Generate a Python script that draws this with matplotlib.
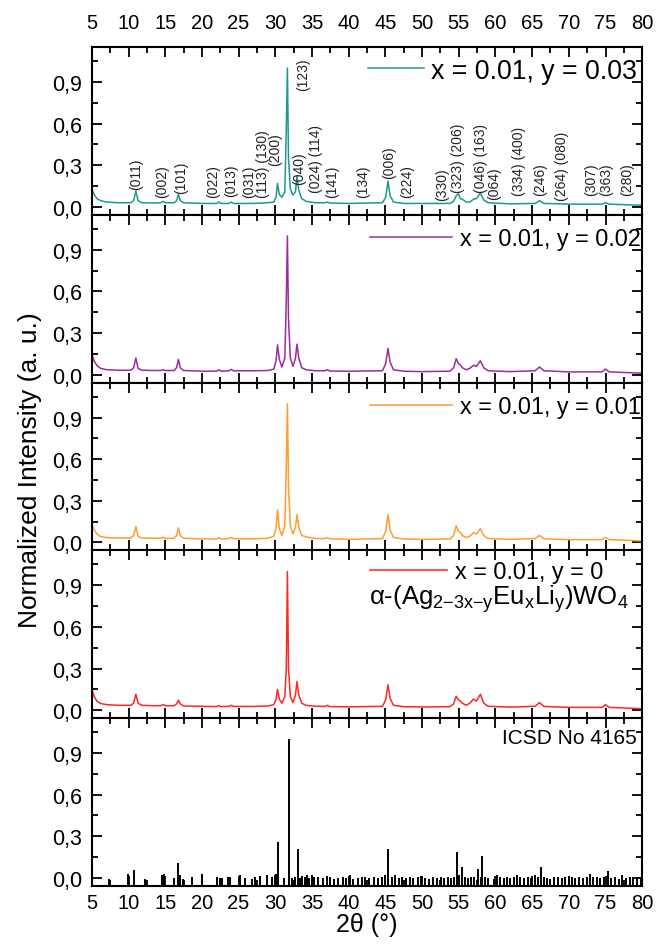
import matplotlib
matplotlib.use('Agg')
import matplotlib.pyplot as plt
from matplotlib.ticker import MultipleLocator, FuncFormatter

plt.rcParams['font.family'] = ['Liberation Sans', 'DejaVu Sans']
plt.rcParams['mathtext.fontset'] = 'custom'
plt.rcParams['mathtext.rm'] = 'Liberation Sans'
plt.rcParams['mathtext.it'] = 'Liberation Sans'

# 2theta grid shared by the four measured patterns
two_theta = [5.0, 5.3, 5.7, 6.2, 7.0, 8.5, 10.3, 10.7, 11.0, 11.3,
             11.8, 13.5, 14.4, 14.7, 15.0, 16.2, 16.55, 16.8, 17.05, 17.5,
             20.0, 22.0, 22.3, 22.6, 23.7, 24.0, 24.3, 27.0, 29.0, 29.8,
             30.1, 30.3, 30.55, 30.9, 31.3, 31.5, 31.65, 31.8, 32.05, 32.4,
             32.75, 32.95, 33.2, 33.6, 34.2, 35.5, 36.8, 37.1, 37.4, 40.0,
             44.6, 45.05, 45.35, 45.65, 46.1, 47.5, 50.0, 53.8, 54.3, 54.65,
             54.95, 55.2, 55.5, 56.0, 56.5, 57.0, 57.4, 57.95, 58.4, 59.0,
             62.0, 65.4, 66.0, 66.6, 70.0, 74.5, 75.0, 75.5, 78.0, 80.0]

# x = 0.01, y = 0.03
int_y003 = [0.13, 0.09, 0.06, 0.045, 0.035, 0.03, 0.03, 0.045, 0.115, 0.045,
            0.03, 0.028, 0.03, 0.04, 0.03, 0.03, 0.045, 0.09, 0.045, 0.03,
            0.025, 0.025, 0.035, 0.025, 0.025, 0.035, 0.025, 0.025, 0.03, 0.035,
            0.07, 0.17, 0.09, 0.07, 0.11, 0.57, 1.0, 0.35, 0.13, 0.085,
            0.11, 0.22, 0.12, 0.06, 0.04, 0.03, 0.03, 0.035, 0.028, 0.025,
            0.03, 0.07, 0.185, 0.08, 0.035, 0.025, 0.025, 0.025, 0.04, 0.08,
            0.095, 0.06, 0.055, 0.035, 0.035, 0.055, 0.06, 0.1, 0.05, 0.03,
            0.022, 0.025, 0.045, 0.025, 0.02, 0.02, 0.03, 0.02, 0.015, 0.012]

# x = 0.01, y = 0.02
int_y002 = [0.15, 0.1, 0.065, 0.045, 0.036, 0.032, 0.032, 0.05, 0.12, 0.045,
            0.032, 0.03, 0.03, 0.035, 0.03, 0.03, 0.05, 0.11, 0.05, 0.03,
            0.025, 0.025, 0.035, 0.025, 0.028, 0.038, 0.028, 0.028, 0.03, 0.04,
            0.1, 0.215, 0.11, 0.055, 0.12, 0.55, 1.0, 0.4, 0.12, 0.06,
            0.12, 0.22, 0.12, 0.05, 0.035, 0.028, 0.028, 0.036, 0.026, 0.025,
            0.028, 0.08, 0.19, 0.09, 0.035, 0.025, 0.022, 0.025, 0.05, 0.115,
            0.08, 0.07, 0.05, 0.035, 0.045, 0.068, 0.06, 0.1, 0.05, 0.028,
            0.022, 0.028, 0.055, 0.028, 0.02, 0.02, 0.04, 0.02, 0.015, 0.01]

# x = 0.01, y = 0.01
int_y001 = [0.135, 0.09, 0.06, 0.042, 0.035, 0.032, 0.032, 0.05, 0.115, 0.045,
            0.032, 0.03, 0.032, 0.038, 0.03, 0.03, 0.05, 0.105, 0.05, 0.03,
            0.025, 0.025, 0.033, 0.025, 0.028, 0.036, 0.027, 0.026, 0.03, 0.045,
            0.1, 0.235, 0.1, 0.05, 0.12, 0.55, 1.0, 0.4, 0.12, 0.06,
            0.11, 0.2, 0.11, 0.05, 0.04, 0.028, 0.028, 0.035, 0.026, 0.022,
            0.028, 0.08, 0.2, 0.09, 0.035, 0.025, 0.022, 0.025, 0.05, 0.12,
            0.08, 0.072, 0.05, 0.035, 0.045, 0.07, 0.06, 0.1, 0.05, 0.028,
            0.022, 0.028, 0.05, 0.026, 0.02, 0.02, 0.036, 0.02, 0.015, 0.01]

# x = 0.01, y = 0
int_y000 = [0.15, 0.1, 0.065, 0.048, 0.04, 0.035, 0.035, 0.05, 0.115, 0.05,
            0.035, 0.032, 0.033, 0.04, 0.032, 0.032, 0.045, 0.072, 0.045, 0.03,
            0.028, 0.026, 0.033, 0.026, 0.028, 0.035, 0.027, 0.027, 0.03, 0.04,
            0.08, 0.15, 0.08, 0.05, 0.1, 0.3, 1.0, 0.3, 0.1, 0.055,
            0.11, 0.207, 0.11, 0.05, 0.035, 0.028, 0.028, 0.035, 0.026, 0.024,
            0.028, 0.075, 0.183, 0.085, 0.035, 0.025, 0.023, 0.025, 0.045, 0.1,
            0.075, 0.067, 0.05, 0.035, 0.05, 0.08, 0.065, 0.115, 0.05, 0.028,
            0.022, 0.028, 0.055, 0.027, 0.02, 0.02, 0.04, 0.02, 0.015, 0.01]

# ICSD No 4165 reference lines
icsd_pos = [7.4, 9.9, 10.8, 12.3, 14.6, 14.9, 16.2, 16.7, 17.0, 17.4,
            18.6, 20.0, 22.0, 22.4, 22.8, 23.5, 23.8, 25.2, 25.9, 26.8,
            27.3, 27.9, 28.9, 29.6, 29.9, 30.1, 30.3, 31.2, 31.8, 32.3,
            32.7, 33.05, 33.4, 33.7, 34.0, 34.3, 34.6, 35.0, 35.3, 35.8,
            36.5, 37.0, 37.4, 38.0, 38.6, 39.2, 39.7, 40.2, 40.6, 41.3,
            41.8, 42.2, 42.8, 43.5, 44.0, 44.6, 45.0, 45.4, 45.9, 46.3,
            46.8, 47.3, 47.8, 48.3, 48.8, 49.4, 49.9, 50.4, 51.0, 51.5,
            52.0, 52.6, 53.0, 53.5, 54.0, 54.4, 54.8, 55.1, 55.5, 55.9,
            56.3, 56.7, 57.1, 57.6, 58.0, 58.2, 58.6, 59.0, 59.8, 60.2,
            60.6, 61.1, 61.6, 62.0, 62.5, 63.0, 63.4, 63.9, 64.4, 64.9,
            65.4, 65.8, 66.2, 66.6, 67.0, 67.5, 68.0, 68.5, 69.0, 69.5,
            70.0, 70.4, 70.9, 71.4, 71.9, 72.5, 72.9, 73.3, 73.8, 74.3,
            74.8, 75.3, 75.8, 76.3, 76.8, 77.3, 77.8, 78.3, 78.8, 79.3, 79.8]
icsd_int = [-0.01, 0.03, 0.06, -0.01, 0.02, 0.025, 0.0, 0.11, 0.02, -0.01,
            0.005, 0.03, 0.005, 0.0, 0.0, 0.01, 0.01, 0.02, 0.0, -0.005,
            0.005, 0.015, 0.02, 0.005, 0.02, 0.03, 0.26, 0.0, 1.0, 0.0,
            0.005, 0.21, 0.0, 0.015, 0.01, 0.02, 0.0, 0.02, 0.005, 0.01,
            0.0, 0.015, 0.01, -0.005, 0.0, 0.005, 0.0, 0.02, -0.005, 0.0,
            0.01, 0.005, 0.0, 0.005, 0.0, 0.01, 0.02, 0.21, 0.01, 0.02,
            0.0, 0.005, 0.0, 0.005, 0.0, 0.005, 0.015, 0.0, -0.005, 0.005,
            0.0, 0.005, 0.0, 0.005, 0.0, 0.01, 0.19, 0.02, 0.08, 0.01,
            0.0, 0.01, 0.005, 0.065, 0.01, 0.16, 0.005, 0.0, -0.005, 0.02,
            0.005, 0.0, 0.005, 0.0, 0.005, 0.02, 0.005, 0.0, 0.005, 0.0,
            0.02, 0.005, 0.08, 0.005, 0.0, -0.005, 0.005, 0.01, 0.0, 0.005,
            0.015, 0.005, 0.0, 0.005, 0.0, 0.005, 0.025, 0.01, 0.005, 0.0,
            0.005, 0.05, 0.0, 0.005, -0.005, 0.02, 0.0, 0.005, 0.0, 0.005, 0.0]

# Miller indices drawn over the top pattern
hkl_text = ['(011)', '(002)', '(101)', '(022)', '(013)', '(031)', '(113) (130)',
            '(200)', '(123)', '(040)', '(024) (114)', '(141)', '(134)', '(006)',
            '(224)', '(330)', '(323) (206)', '(046) (163)', '(064)', '(334) (400)',
            '(246)', '(264) (080)', '(307)', '(363)', '(280)']
hkl_x = [11.1, 14.6, 17.1, 21.5, 24.0, 26.5, 28.3, 30.0, 33.8, 33.2, 35.5,
         37.7, 42.0, 45.5, 48.0, 52.8, 54.9, 58.0, 59.8, 63.2, 66.1, 69.1,
         73.0, 75.1, 77.9]
hkl_y = [0.13, 0.07, 0.1, 0.07, 0.08, 0.07, 0.07, 0.3, 0.84, 0.165, 0.11,
         0.07, 0.07, 0.21, 0.07, 0.05, 0.11, 0.11, 0.06, 0.085, 0.085, 0.05,
         0.085, 0.085, 0.085]

series = [int_y003, int_y002, int_y001, int_y000]
labels = ['x = 0.01, y = 0.03', 'x = 0.01, y = 0.02', 'x = 0.01, y = 0.01', 'x = 0.01, y = 0']
colors = ['#1b9a8f', '#9c2c9c', '#ff9d2e', '#ff2626']
leg_size = [19.3, 16.8, 16.8, 16.8]
leg_x = [0.482, 0.4885, 0.4885, 0.4885]
leg_y = [0.86, 0.86, 0.86, 0.875]
leg_len = [2.1, 3.5, 3.5, 3.3]
leg_pad = [0.26, 0.35, 0.35, 0.35]

fig, axes = plt.subplots(5, 1, figsize=(6.56, 9.45), dpi=100, sharex=True)
fig.subplots_adjust(left=0.14, right=0.979, top=0.949, bottom=0.0614, hspace=0)

for ax in axes:
    ax.set_xlim(5, 80)
    ax.set_ylim(-0.058, 1.151)
    ax.xaxis.set_major_locator(MultipleLocator(5))
    ax.xaxis.set_minor_locator(MultipleLocator(2.5))
    ax.yaxis.set_major_locator(MultipleLocator(0.3))
    ax.yaxis.set_minor_locator(MultipleLocator(0.15))
    ax.yaxis.set_major_formatter(FuncFormatter(lambda v, p: f'{v:.1f}'.replace('.', ',')))
    ax.tick_params(which='both', direction='in', top=True, right=True, width=1.3,
                   labelsize=14.5, labelbottom=False, labeltop=False)
    ax.tick_params(axis='y', which='major', pad=7, labelsize=15.5)
    ax.tick_params(which='major', length=7)
    ax.tick_params(which='minor', length=4)
    for s in ax.spines.values():
        s.set_linewidth(1.5)

for i, ax in enumerate(axes[:4]):
    ax.plot(two_theta, series[i], color=colors[i], lw=1.1, label=labels[i])
    ax.legend(loc='center left', bbox_to_anchor=(leg_x[i], leg_y[i]), frameon=False,
              fontsize=leg_size[i], handlelength=leg_len[i], handletextpad=leg_pad[i],
              borderaxespad=0.0)

for t, xx, yy in zip(hkl_text, hkl_x, hkl_y):
    axes[0].text(xx, yy, t, rotation=90, ha='center', va='bottom', fontsize=10, color='#222222')

axes[3].text(0.975, 0.685, r'$\alpha$-(Ag$_{2\mathrm{-}3x\mathrm{-}y}$Eu$_x$Li$_y$)WO$_4$',
             transform=axes[3].transAxes, ha='right', va='baseline', fontsize=18.5)

ax5 = axes[4]
ax5.vlines(icsd_pos, -0.058, icsd_int, color='black', lw=1.4)
ax5.text(0.99, 0.94, 'ICSD No 4165', transform=ax5.transAxes, ha='right', va='top', fontsize=15)

axes[0].tick_params(axis='x', which='major', labeltop=True, pad=11)
ax5.tick_params(axis='x', which='major', labelbottom=True, pad=5)
ax5.set_xlabel('2θ (°)', fontsize=18, labelpad=0)
fig.text(0.045, 0.503, 'Normalized Intensity (a. u.)', rotation=90, ha='center', va='center',
         fontsize=19)

fig.savefig('out.png', dpi=100)
